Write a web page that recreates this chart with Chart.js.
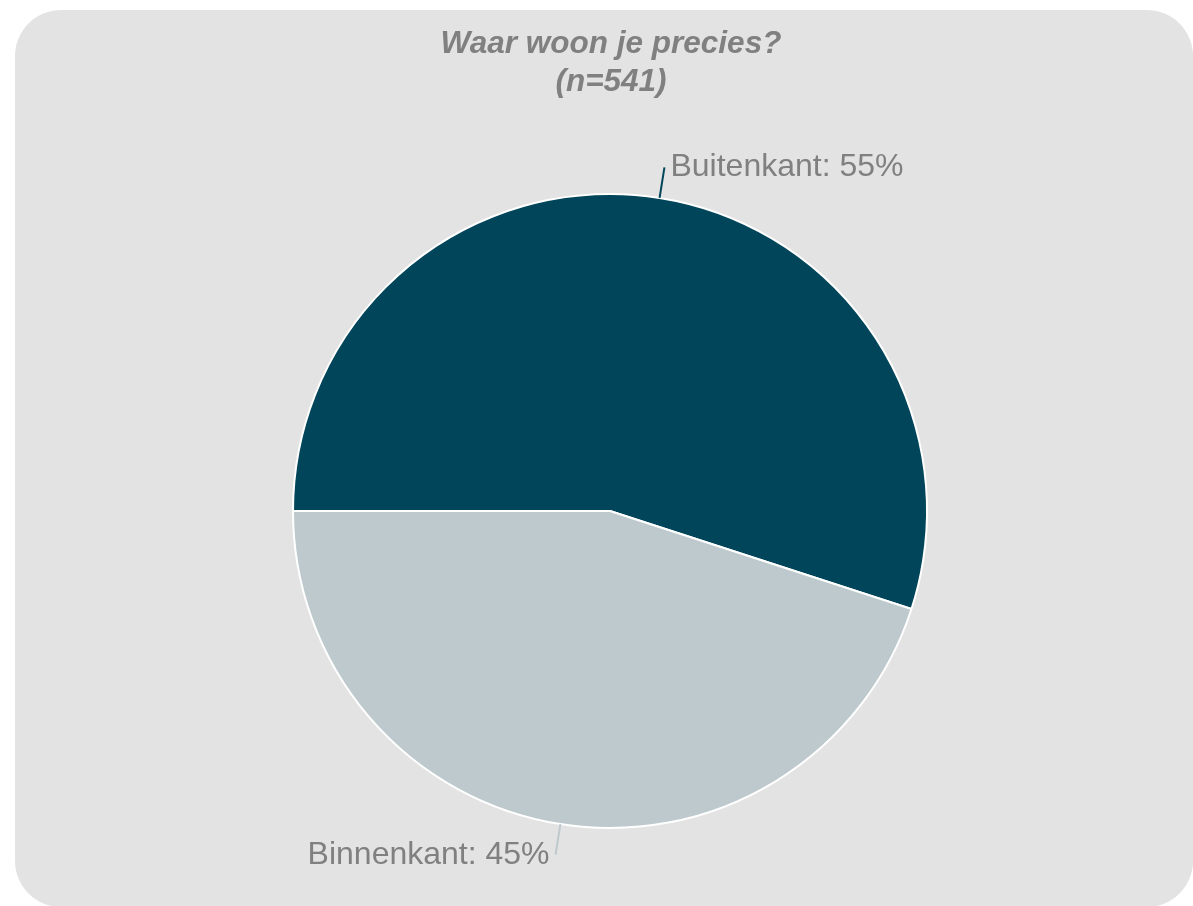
<!DOCTYPE html>
<html>
<head>
<meta charset="utf-8">
<script src="https://cdn.jsdelivr.net/npm/chart.js@4/dist/chart.umd.min.js"></script>
<style>
  html, body { margin: 0; padding: 0; background: #ffffff; }
  #wrap { width: 1193px; height: 906px; }
</style>
</head>
<body>
<div id="wrap"><canvas id="c1"></canvas></div>
<script>
var labels = ['Buitenkant', 'Binnenkant'];
var values = [55, 45];
var colors = ['#00455A', '#BDC9CD'];
var titleLines = ['Waar woon je precies?', '(n=541)'];

// grey panel + title + labels with leader lines
var decor = {
    id: 'decor',
    beforeDraw: function (chart) {
        var ctx = chart.ctx;
        ctx.save();
        ctx.fillStyle = '#E3E3E3';
        ctx.beginPath();
        ctx.roundRect(15, 10, 1178, 897, 46);
        ctx.fill();
        ctx.restore();
    },
    afterDraw: function (chart) {
        var ctx = chart.ctx;
        var meta = chart.getDatasetMeta(0);
        ctx.save();

        ctx.fillStyle = '#808080';
        ctx.font = 'italic bold 31.5px "Liberation Sans", Arial, sans-serif';
        ctx.textAlign = 'center';
        ctx.textBaseline = 'alphabetic';
        ctx.fillText(titleLines[0], 611, 53);
        ctx.fillText(titleLines[1], 611, 91);

        ctx.font = '32px "Liberation Sans", Arial, sans-serif';
        meta.data.forEach(function (arc, i) {
            var p = arc.getProps(['x', 'y', 'startAngle', 'endAngle', 'outerRadius'], true);
            var mid = (p.startAngle + p.endAngle) / 2;
            var c = Math.cos(mid), s = Math.sin(mid);
            var x1 = p.x + c * p.outerRadius, y1 = p.y + s * p.outerRadius;
            var x2 = p.x + c * (p.outerRadius + 31), y2 = p.y + s * (p.outerRadius + 31);
            ctx.strokeStyle = colors[i];
            ctx.lineWidth = 2;
            ctx.beginPath();
            ctx.moveTo(x1, y1);
            ctx.lineTo(x2, y2);
            ctx.stroke();
            ctx.fillStyle = '#808080';
            var txt = labels[i] + ': ' + values[i] + '%';
            if (c >= 0) {
                ctx.textAlign = 'left';
                ctx.fillText(txt, x2 + 6, y2 + 9);
            } else {
                ctx.textAlign = 'right';
                ctx.fillText(txt, x2 - 6, y2 + 9);
            }
        });
        ctx.restore();
    }
};

var ctx = document.getElementById('c1');
var myPie = new Chart(ctx, {
    type: 'pie',
    data: {
        labels: labels,
        datasets: [{
            data: values,
            backgroundColor: colors,
            borderColor: '#ffffff',
            borderWidth: 2
        }]
    },
    options: {
        responsive: true,
        maintainAspectRatio: false,
        animation: false,
        rotation: -90,
        layout: {
            padding: { top: 193, bottom: 77, left: 27, right: 0 }
        },
        plugins: {
            legend: { display: false },
            tooltip: { enabled: false },
            title: { display: false }
        }
    },
    plugins: [decor]
});
</script>
</body>
</html>
